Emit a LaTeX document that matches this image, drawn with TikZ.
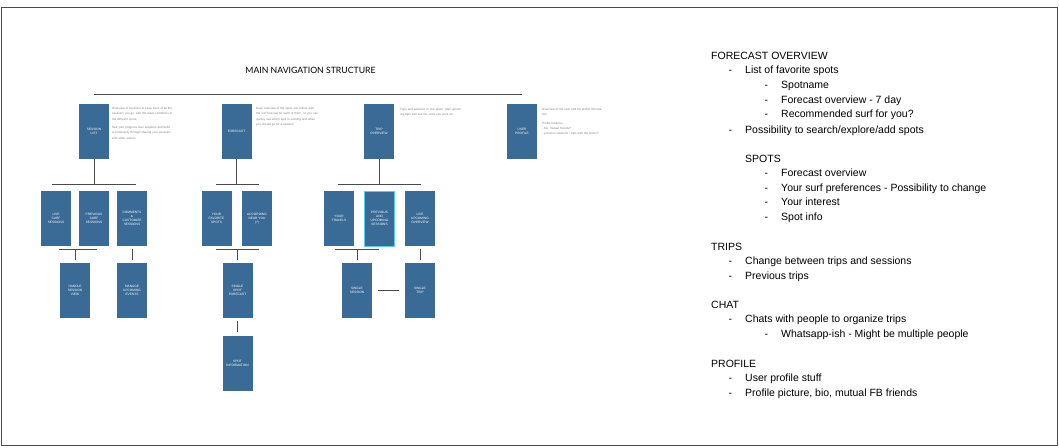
\documentclass[tikz,border=0pt]{standalone}
\usepackage{fontspec}
\setmainfont{Liberation Sans}
\newfontfamily\titlefont{Lato}
\definecolor{boxblue}{HTML}{3A6B97}
\definecolor{linegray}{HTML}{4A4A4A}
\definecolor{paragray}{HTML}{7F7F7F}
\tikzset{screen/.style = {fill=boxblue, minimum width=30, minimum height=55, inner sep=0pt, text=white, align=center, font=\fontsize{3.2}{3.9}\selectfont},
         picked/.style = {draw=cyan!65!white, line width=1pt},
         note/.style = {anchor=north west, text width=62, inner sep=0pt, align=left, text=paragray, font=\fontsize{3}{5.4}\selectfont},
         link/.style = {draw=linegray, line width=0.8pt},
         doc/.style = {anchor=base west, inner sep=0pt, font=\fontsize{10.5}{12}\selectfont}}

\begin{document}
\begin{tikzpicture}[x=1pt, y=-1pt]
    \useasboundingbox (0,0) rectangle (1059,447);
    \draw [linegray, line width=1pt] (1.5,7.5) rectangle (1057.5,445.5);

    \node [font=\titlefont\fontsize{8.7}{10}\selectfont] (title) at (310.5,70) {MAIN NAVIGATION STRUCTURE};
    \coordinate (topl) at (94,94);
    \coordinate (topr) at (522,94);
    \draw [link] (topl) -- (topr);

    \node [screen] (sessions) at (94,131.5) {SESSION\\LIST};
    \node [screen] (forecast) at (236.5,131.5) {FORECAST};
    \node [screen] (trips) at (379,131.5) {TRIP\\OVERVIEW};
    \node [screen] (profile) at (522,131.5) {USER\\PROFILE};

    \node [note] (sessionsnote) at (112,107) {Overview of sessions to keep track of all the sessions you go, with the wave conditions in the different spots.\\[3pt] See your progress over sessions and build a community through sharing your sessions with other surfers.};
    \node [note] (forecastnote) at (256,107) {Easy overview of the spots you follow, with the surf forecast for each of them, so you can quickly see which spot is working and when you should go for a session.};
    \node [note] (tripsnote) at (400,108) {Trips and sessions in one place: plan upcoming trips and see the ones you went on.};
    \node [note] (profilenote) at (542,108) {Overview of the user and his profile information.\\[3pt] Profile features:\\ - bio, mutual friends?\\ - previous sessions / trips with the surfer?};

    \coordinate (bar1l) at (52,184);  \coordinate (bar1r) at (136,184);
    \coordinate (bar2l) at (216,184); \coordinate (bar2r) at (259,184);
    \coordinate (bar3l) at (338,184); \coordinate (bar3r) at (421,184);
    \draw [link] (bar1l) -- (bar1r);
    \draw [link] (bar2l) -- (bar2r);
    \draw [link] (bar3l) -- (bar3r);
    \draw [link] (sessions) -- (sessions |- bar1l);
    \draw [link] (forecast) -- (forecast |- bar2l);
    \draw [link] (trips) -- (trips |- bar3l);

    \node [screen] (live) at (56,218.5) {LIVE\\SURF\\SESSIONS};
    \node [screen] (previous) at (94,218.5) {PREVIOUS\\SURF\\SESSIONS};
    \node [screen] (comments) at (132,218.5) {COMMENTS\\\&\\CUSTOMIZE\\SESSIONS};
    \node [screen] (favspots) at (216.5,218.5) {YOUR\\FAVORITE\\SPOTS};
    \node [screen] (nearby) at (257,218.5) {ACCORDING\\NEAR YOU\\(?)};
    \node [screen] (travels) at (339,218.5) {YOUR\\TRAVELS};
    \node [screen, picked] (upcoming) at (379.5,218.5) {PREVIOUS\\AND\\UPCOMING\\SESSIONS};
    \node [screen] (liveup) at (420,218.5) {LIVE\\UPCOMING\\OVERVIEW};

    \node [screen] (handle) at (75,290.5) {HANDLE\\SESSION\\VIEW};
    \node [screen] (events) at (132,290.5) {MANAGE\\UPCOMING\\EVENTS};
    \node [screen] (spotfc) at (237.5,290.5) {SINGLE\\SPOT\\FORECAST};
    \node [screen] (spotinfo) at (237.5,363) {SPOT\\INFORMATION};
    \node [screen] (single) at (357,290.5) {SINGLE\\SESSION};
    \node [screen] (singletrip) at (420,290.5) {SINGLE\\TRIP};

    \coordinate (bar4l) at (59,249);  \coordinate (bar4r) at (97,249);
    \coordinate (bar5l) at (216,249); \coordinate (bar5r) at (259,249);
    \coordinate (bar6l) at (335,249); \coordinate (bar6r) at (379,249);
    \draw [link] (bar4l) -- (bar4r);
    \draw [link] (bar5l) -- (bar5r);
    \draw [link] (bar6l) -- (bar6r);
    \draw [link, shorten >=3pt] (handle |- bar4l) -- (handle);
    \draw [link, shorten >=3pt] (spotfc |- bar5l) -- (spotfc);
    \draw [link, shorten >=3pt] (single |- bar6l) -- (single);
    \draw [link, shorten <=3pt, shorten >=3pt] (comments) -- (events);
    \draw [link, shorten <=3pt, shorten >=3pt] (liveup) -- (singletrip);
    \draw [link, shorten <=3pt, shorten >=3pt] (spotfc) -- (spotinfo);
    \draw [link, shorten <=6pt, shorten >=6pt] (single) -- (singletrip);

    \foreach \xx/\yy/\txt [count=\i] in {711/55/FORECAST OVERVIEW, 745/158/SPOTS, 711/246/TRIPS, 711/304/CHAT, 711/363/PROFILE}
        \node [doc] (head\i) at (\xx,\yy+4) {\txt};
    \foreach \xx/\yy/\txt [count=\i] in {745/69/List of favorite spots, 781/84/Spotname, 781/99/Forecast overview - 7 day,
            781/113/Recommended surf for you?, 745/129/{Possibility to search/explore/add spots},
            781/172/Forecast overview, 781/187/Your surf preferences - Possibility to change, 781/201/Your interest,
            781/216/Spot info, 745/260/Change between trips and sessions, 745/275/Previous trips,
            745/318/Chats with people to organize trips, 781/333/Whatsapp-ish - Might be multiple people,
            745/377/User profile stuff, 745/392/{Profile picture, bio, mutual FB friends}} {
        \node [doc] (dash\i) at (\xx-16.5,\yy+4) {-};
        \node [doc] (item\i) at (\xx,\yy+4) {\txt};
    }
\end{tikzpicture}
\end{document}
